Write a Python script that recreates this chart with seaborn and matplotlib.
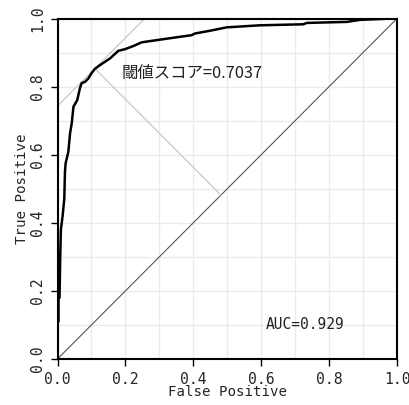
import matplotlib
matplotlib.use("Agg")
import matplotlib.pyplot as plt
import numpy as np
import pandas as pd
import seaborn as sns

# ROC curve points
fpr = [0.0, 0.0, 0.003, 0.003, 0.006, 0.008, 0.010, 0.015, 0.020, 0.022, 0.024,
       0.032, 0.037, 0.042, 0.047, 0.058, 0.066, 0.071, 0.081, 0.091, 0.10, 0.11,
       0.125, 0.14, 0.155, 0.179, 0.199, 0.223, 0.248, 0.282, 0.331, 0.395,
       0.405, 0.449, 0.498, 0.596, 0.724, 0.734, 0.852, 0.891, 0.988, 1.0]
tpr = [0.0, 0.11, 0.11, 0.18, 0.18, 0.30, 0.38, 0.42, 0.47, 0.55, 0.575,
       0.609, 0.663, 0.693, 0.741, 0.76, 0.795, 0.81, 0.814, 0.824, 0.839, 0.852,
       0.863, 0.873, 0.883, 0.905, 0.91, 0.919, 0.93, 0.935, 0.942, 0.951,
       0.956, 0.964, 0.974, 0.98, 0.983, 0.987, 0.99, 0.996, 1.0, 1.0]

# threshold point (best cut-off) and annotations
best_fpr = 0.11
best_tpr = 0.853
threshold_label = "閾値スコア=0.7037"
auc_label = "AUC=0.929"
ticks = [0.0, 0.2, 0.4, 0.6, 0.8, 1.0]
tick_labels = ["0.0", "0.2", "0.4", "0.6", "0.8", "1.0"]

sns.set_theme(style="white")
plt.rcParams['font.family'] = ['DejaVu Sans Mono', 'Noto Sans CJK JP']

fig = plt.figure(figsize=(4.09, 4.05), dpi=100)
ax = fig.add_axes([57.5 / 409, 1 - 359 / 405, (397 - 57.5) / 409, (359 - 18.5) / 405])

ax.set_xlim(0, 1)
ax.set_ylim(0, 1)

# grid
minor = np.arange(0, 1.01, 0.1)
for v in minor:
    ax.axvline(v, color="#ebebeb", lw=1.0, zorder=0)
    ax.axhline(v, color="#ebebeb", lw=1.0, zorder=0)

# diagonal
sns.lineplot(x=[0, 1], y=[0, 1], ax=ax, color="#555555", lw=0.8, estimator=None, sort=False)

# tangent line through best point (slope 1)
c = best_tpr - best_fpr
sns.lineplot(x=[0, 1 - c], y=[c, 1], ax=ax, color="#c8c8c8", lw=0.9, estimator=None, sort=False)
# perpendicular to diagonal
foot = (best_fpr + best_tpr) / 2
sns.lineplot(x=[best_fpr, foot], y=[best_tpr, foot], ax=ax, color="#c8c8c8", lw=0.9,
             estimator=None, sort=False)

# ROC curve
df = pd.DataFrame({"fpr": fpr, "tpr": tpr})
sns.lineplot(data=df, x="fpr", y="tpr", ax=ax, color="black", lw=1.8, estimator=None, sort=False)

ax.text(0.19, 0.838, threshold_label, fontsize=11.8, family=['Noto Sans CJK JP', 'DejaVu Sans'],
        ha="left", va="center", color="#222222")
ax.text(0.613, 0.101, auc_label, fontsize=10.5, ha="left", va="center", color="#222222")

ax.set_xticks(ticks)
ax.set_xticklabels(tick_labels, fontsize=10.6)
ax.set_yticks(ticks)
ax.set_yticklabels(tick_labels, fontsize=10.6, rotation=90, va="center")
ax.tick_params(axis="both", direction="out", length=5, width=1, color="black", pad=4,
               bottom=True, left=True)
ax.set_xlabel("False Positive", fontsize=10.2, labelpad=-1)
ax.set_ylabel("True Positive", fontsize=10.2, labelpad=1)

for s in ax.spines.values():
    s.set_color("black")
    s.set_linewidth(1.5)
    s.set_visible(True)

fig.savefig("out.png", dpi=100, facecolor="white")
